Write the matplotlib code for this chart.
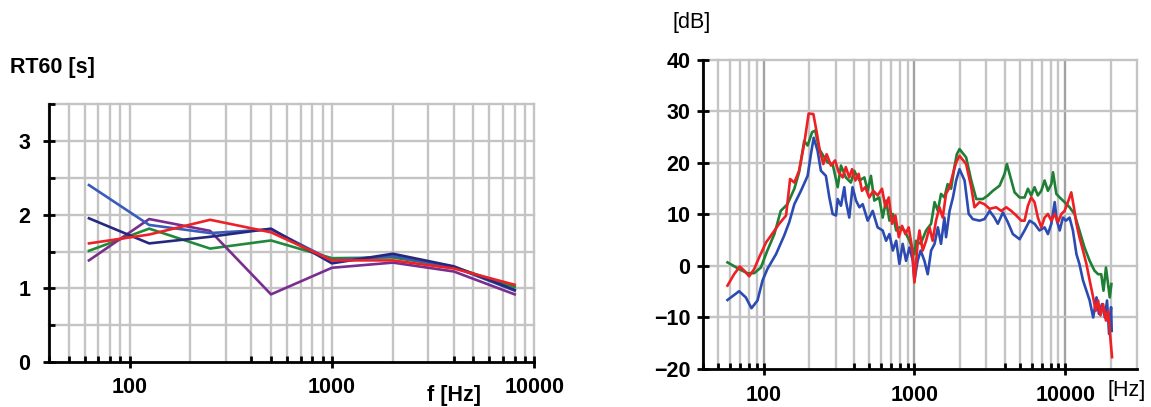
import matplotlib.pyplot as plt
import numpy as np

plt.rcParams['font.family'] = ['Liberation Sans', 'DejaVu Sans']

# --- left: RT60 per octave band ---
octaves = [63, 125, 250, 500, 1000, 2000, 4000, 8000]
rt_blue = [2.40, 1.86, 1.75, 1.80, 1.38, 1.44, 1.29, 0.97]
rt_navy = [1.95, 1.61, 1.70, 1.81, 1.34, 1.47, 1.30, 0.98]
rt_red = [1.61, 1.73, 1.93, 1.76, 1.38, 1.38, 1.27, 1.05]
rt_green = [1.51, 1.81, 1.54, 1.65, 1.41, 1.42, 1.29, 1.02]
rt_purple = [1.38, 1.94, 1.78, 0.92, 1.28, 1.35, 1.23, 0.92]

# --- right: frequency response [dB] ---
f_blue = [57.7, 68.9, 76.3, 83.2, 91.2, 98.5, 106, 121, 137, 148,
          160, 177, 196, 206, 215, 228, 240, 259, 273, 287,
          302, 310, 326, 343, 351, 370, 389, 410, 432, 454,
          490, 529, 570, 616, 649, 683, 719, 757, 795, 836,
          880, 927, 976,
          1000, 1050, 1100, 1165, 1225, 1290, 1360, 1430, 1500, 1580,
          1620, 1710, 1800, 1890,
          1990, 2150, 2290, 2440, 2700, 2910, 3150, 3390, 3570, 3860,
          4160, 4490, 4980, 5370, 5800, 6250, 6740, 7290, 7670, 8080,
          8500, 8790, 9180, 9640, 10100, 10670, 11230, 11850, 12400, 13100,
          13800, 14500, 15300, 16100, 16700, 17500, 18300, 18900, 19500, 20100,
          20300]
db_blue = [-6.6, -4.9, -6.1, -8.2, -6.7, -2.8, -0.6, 2.3, 5.9, 8.5,
           12.0, 14.6, 17.5, 21.7, 24.9, 22.4, 18.5, 17.5, 13.3, 10.1,
           9.8, 13.0, 11.7, 15.3, 12.7, 9.4, 15.3, 12.7, 11.4, 12.0,
           8.8, 10.7, 7.5, 6.9, 4.9, 6.2, 3.0, 4.9, 0.4, 4.3,
           1.0, 3.6, 1.0,
           -2.8, 1.0, 3.0, 1.0, -1.6, 3.0, 4.3, 7.5, 4.3, 9.4,
           5.6, 10.7, 13.3, 16.6,
           18.8, 16.6, 10.1, 9.1, 8.8, 9.1, 10.7, 9.4, 8.2, 10.4,
           8.5, 6.2, 5.2, 6.9, 8.8, 8.2, 6.9, 7.5, 6.2, 8.2,
           12.4, 8.8, 6.9, 9.4, 8.8, 9.4, 6.9, 2.3, 0.4, -2.8,
           -4.8, -6.7, -10.0, -6.1, -9.3, -7.4, -10.0, -6.7, -13.2, -8.0,
           -12.6]

f_green = [57.7, 68.9, 78, 86.7, 96, 106, 118, 130, 144, 160,
           172, 186, 196, 210, 220, 234, 249, 266, 287, 310,
           326, 351, 379, 399, 432, 466, 490, 515, 542, 584,
           616, 649, 683, 719, 757, 795, 858, 927,
           1000, 1025, 1100, 1195, 1290, 1360, 1430, 1500, 1580, 1660,
           1750, 1840, 1910, 1990, 2200, 2380, 2570, 2840, 3070, 3310,
           3670, 3960, 4100, 4270, 4610, 4980, 5370, 5650, 5940, 6250,
           6580, 6930, 7290, 7670, 8080, 8290, 8720, 9180, 9890, 10670,
           11500, 12400, 13400, 14500, 15600, 16500, 17300, 17900, 18600, 19200,
           19700, 20200]
db_green = [0.7, -0.6, -1.4, -1.4, -0.3, 3.0, 6.2, 10.7, 12.0, 15.0,
            18.2, 24.3, 23.4, 26.0, 26.3, 22.7, 21.4, 20.1, 19.8, 15.3,
            19.5, 17.2, 16.2, 18.5, 16.6, 17.2, 14.6, 17.5, 12.7, 13.3,
            9.4, 12.7, 8.8, 10.1, 6.9, 7.5, 6.9, 4.9,
            2.3, 4.9, 4.3, 6.9, 8.2, 12.4, 10.7, 14.0, 13.3, 15.9,
            15.0, 19.2, 21.7, 22.7, 21.1, 16.6, 13.0, 13.0, 13.7, 14.6,
            15.6, 17.9, 19.8, 17.9, 14.3, 13.3, 13.3, 15.0, 13.7, 15.3,
            13.7, 14.6, 16.6, 14.6, 15.9, 18.2, 14.0, 13.3, 12.4, 11.4,
            10.1, 6.9, 3.6, 1.0, -0.9, -1.6, -1.6, -4.8, -0.3, -3.5,
            -6.1, -3.5]

f_red = [57.7, 63.8, 69.6, 75, 80.3, 86.7, 93.6, 104, 112, 127,
         141, 150, 160, 172, 186, 199, 214, 225, 236, 249,
         262, 280, 298, 315, 335, 351, 370, 386, 406, 427,
         449, 472, 502, 534, 570, 610, 642, 676, 711, 748,
         788, 828, 871, 916, 964,
         1000, 1050, 1080, 1135, 1195, 1260, 1320, 1390, 1465, 1540,
         1620, 1710, 1800, 1890, 1990, 2200, 2380, 2500, 2700, 2910,
         3150, 3480, 3760, 4060, 4380, 4730, 5110, 5370, 5650, 5940,
         6250, 6580, 6930, 7290, 7670, 8080, 8500, 8950, 9420, 9890,
         10400, 10950, 11400, 11850, 12400, 13100, 13800, 14500, 15300, 15900,
         16500, 17100, 17800, 18600, 19200, 19700, 20400]
db_red = [-3.8, -1.6, -0.1, -1.0, -2.0, -0.6, 1.7, 4.6, 5.9, 8.2,
          9.8, 16.9, 16.2, 18.5, 23.7, 29.6, 29.5, 26.0, 22.4, 19.8,
          21.7, 19.5, 20.5, 18.2, 17.2, 19.2, 17.2, 18.8, 16.6, 17.9,
          14.6, 15.3, 13.3, 14.6, 13.7, 15.0, 11.4, 13.3, 8.2, 9.8,
          5.6, 7.8, 6.2, 7.5, 3.6,
          -3.2, 4.3, 6.9, 3.0, 4.9, 7.5, 4.9, 8.8, 11.4, 9.4,
          14.0, 15.3, 17.9, 20.1, 21.4, 19.8, 15.3, 11.4, 12.4, 12.0,
          11.1, 11.4, 10.7, 11.4, 10.7, 9.8, 8.8, 8.8, 11.7, 13.3,
          12.4, 9.4, 7.5, 9.4, 10.1, 8.8, 10.1, 8.5, 10.1, 10.7,
          12.4, 14.3, 11.4, 8.2, 5.6, 3.0, 0.4, -2.8, -6.1, -8.7,
          -6.7, -9.6, -7.4, -10.6, -8.7, -12.6, -17.7]

GRID = '#c4c4c4'
GRID_DARK = '#a2a2a2'
FS = 15.5


def log_grid(ax, lo, hi, major_color):
    dec = 10
    while dec <= hi * 10:
        for m in range(1, 10):
            v = dec * m / 10
            if lo <= v <= hi:
                c = major_color if m == 1 else GRID
                ax.axvline(v, color=c, lw=1.7, zorder=0, clip_on=False)
        dec *= 10


def style_axes(ax):
    for s in ('top', 'right'):
        ax.spines[s].set_visible(False)
    for s in ('left', 'bottom'):
        ax.spines[s].set_linewidth(2.0)
        ax.spines[s].set_zorder(5)
    ax.tick_params(which='major', direction='inout', length=9, width=2.0,
                   labelsize=FS, pad=6)
    ax.tick_params(which='minor', direction='in', length=4, width=2.0)
    for lab in ax.get_xticklabels() + ax.get_yticklabels():
        lab.set_fontweight('bold')


fig = plt.figure(figsize=(11.51, 4.07), dpi=100)

# ---------- left chart ----------
ax1 = fig.add_axes([0.0426, 0.1098, 0.4216, 0.6351])
ax1.set_xscale('log')
ax1.set_xlim(40, 10000)
ax1.set_ylim(0, 3.5)
log_grid(ax1, 40, 10000, GRID)
for y in np.arange(0.5, 3.51, 0.5):
    ax1.axhline(y, color=GRID, lw=1.7, zorder=0, clip_on=False)

ax1.plot(octaves, rt_green, color='#21893a', lw=1.9)
ax1.plot(octaves, rt_purple, color='#7b2d8e', lw=1.9)
ax1.plot(octaves, rt_blue, color='#3a5cb8', lw=1.9)
ax1.plot(octaves, rt_navy, color='#26287e', lw=1.9)
ax1.plot(octaves, rt_red, color='#ec2228', lw=1.9)

ax1.set_xticks([100, 1000, 10000])
ax1.set_xticklabels(['100', '1000', '10000'])
ax1.set_xticks([v * d for d in (10, 100, 1000) for v in range(4, 10)], minor=True)
ax1.set_yticks([0, 1, 2, 3])
ax1.set_yticks([0.5, 1.5, 2.5, 3.5], minor=True)
ax1.xaxis.set_minor_formatter(plt.NullFormatter())
style_axes(ax1)
ax1.tick_params(axis='y', pad=9)
ax1.tick_params(axis='x', pad=6)

fig.text(0.009, 0.833, 'RT60 [s]', fontsize=FS, fontweight='bold', va='center')
fig.text(0.371, 0.029, 'f [Hz]', fontsize=FS, fontweight='bold', va='center')

# ---------- right chart ----------
ax2 = fig.add_axes([0.6112, 0.0934, 0.3769, 0.7592])
ax2.set_xscale('log')
ax2.set_xlim(40, 30000)
ax2.set_ylim(-20, 40)
log_grid(ax2, 40, 30000, GRID_DARK)
for y in range(-10, 41, 10):
    ax2.axhline(y, color=GRID, lw=1.7, zorder=0, clip_on=False)

ax2.plot(f_blue, db_blue, color='#2b4bb2', lw=1.9)
ax2.plot(f_green, db_green, color='#1f7f34', lw=1.9)
ax2.plot(f_red, db_red, color='#ee2024', lw=1.9)

ax2.set_xticks([100, 1000, 10000])
ax2.set_xticklabels(['100', '1000', '10000'])
ax2.set_xticks([v * d for d in (10, 100, 1000, 10000) for v in range(4, 10)
                if v * d <= 30000], minor=True)
ax2.xaxis.set_minor_formatter(plt.NullFormatter())
ax2.set_yticks(range(-20, 41, 10))
style_axes(ax2)
ax2.tick_params(axis='y', which='major', pad=5)
ax2.tick_params(axis='x', pad=7)

fig.text(0.584, 0.944, '[dB]', fontsize=FS, va='center')
fig.text(0.962, 0.040, '[Hz]', fontsize=FS, va='center')

fig.savefig('out.png', dpi=100)
